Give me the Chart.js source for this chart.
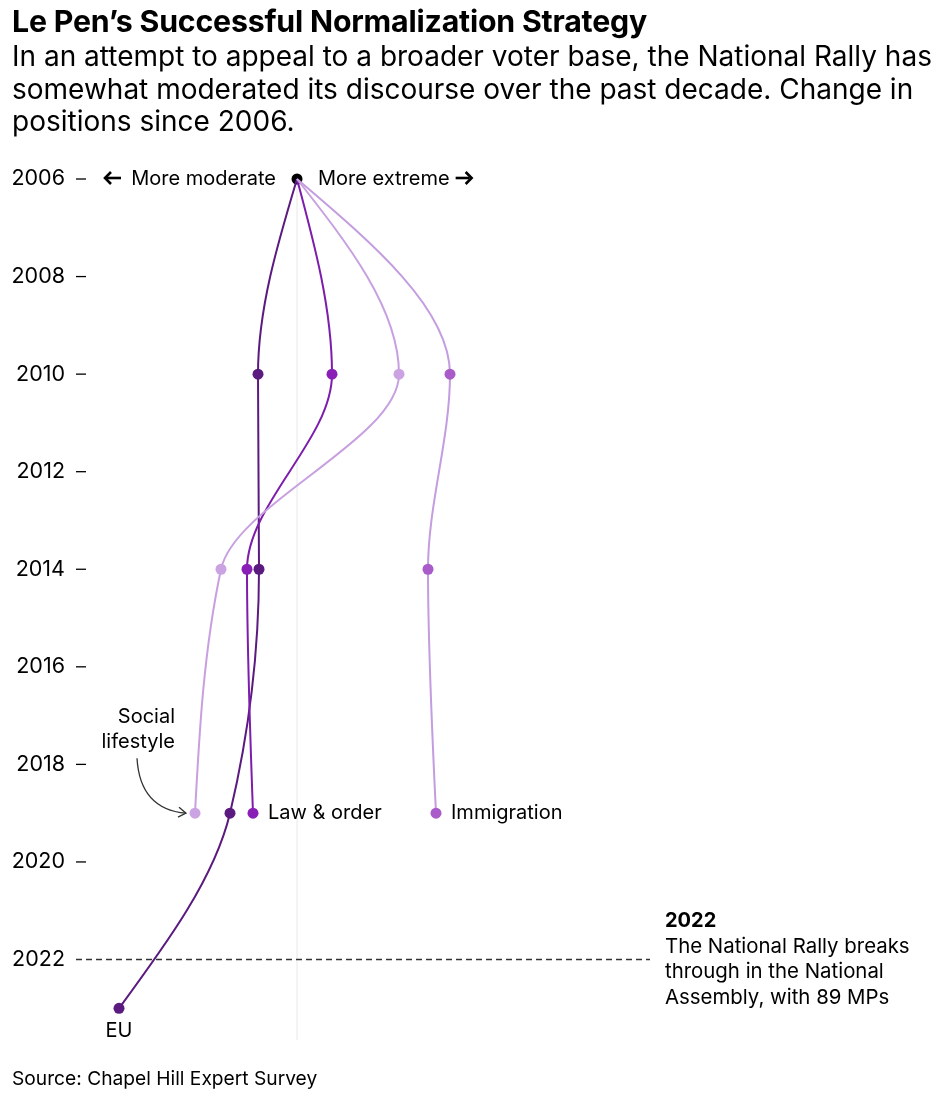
<!DOCTYPE html>
<html>
<head>
<meta charset="utf-8">
<script src="https://cdn.jsdelivr.net/npm/chart.js@4.4.1/dist/chart.umd.min.js"></script>
<style>
  body { margin: 0; background: #fff; font-family: Inter, "Liberation Sans", Arial, sans-serif; color: #000; }
  #wrap { position: relative; width: 943px; height: 1096px; overflow: hidden; }
  #title { position: absolute; left: 12px; top: 3px; margin: 0; font-size: 30.3px; font-weight: bold; letter-spacing: -0.2px; white-space: nowrap; }
  #sub { position: absolute; left: 12px; top: 40px; margin: 0; width: 930px; font-size: 28px; line-height: 32.5px; }
  #source { position: absolute; left: 12px; top: 1066px; font-size: 19.2px; }
  canvas { position: absolute; left: 0; top: 0; }
</style>
</head>
<body>
<div id="wrap">
  <canvas id="chart" width="943" height="1096"></canvas>
  <h1 id="title">Le Pen’s Successful Normalization Strategy</h1>
  <p id="sub">In an attempt to appeal to a broader voter base, the National Rally has somewhat moderated its discourse over the past decade. Change in positions since 2006.</p>
  <div id="source">Source: Chapel Hill Expert Survey</div>
</div>
<script>
// survey years and change in position since 2006 (negative = more moderate)
let surveyYears = [2006, 2010, 2014, 2019]
let euYears = [2006, 2010, 2014, 2019, 2023]
let euValues = [0, -0.39, -0.38, -0.67, -1.78]
let lawValues = [0, 0.35, -0.50, -0.44]
let socialValues = [0, 1.02, -0.76, -1.02]
let immigrationValues = [0, 1.53, 1.31, 1.39]
let yearTicks = [2006, 2008, 2010, 2012, 2014, 2016, 2018, 2020, 2022]

let colors = {
    eu: ['#5b1a7f', '#5b1a7f'],
    law: ['#7d1dac', '#8a1fb8'],
    social: ['#c8a0e0', '#cba3e2'],
    immigration: ['#c39ddf', '#a95cc9']
}

function toPoints(years, values) {
    return years.map((y, i) => ({ x: values[i], y: y }))
}

function series(label, years, values, color) {
    return {
        label: label,
        data: toPoints(years, values),
        borderColor: color[0],
        backgroundColor: color[1],
        pointBackgroundColor: color[1],
        borderWidth: 2,
        pointRadius: years.map((y, i) => i === 0 ? 0 : 5.5),
        pointBorderWidth: 0,
        cubicInterpolationMode: 'monotone',
        clip: false
    }
}

let font = 'Inter, "Liberation Sans", Arial, sans-serif'

// monotone-in-y control points, same maths as d3.curveMonotoneY
function sign(v) { return v < 0 ? -1 : 1 }
function monotoneY(points) {
    let n = points.length
    if (n < 2) return
    let h = [], s = [], t = []
    for (let i = 0; i < n - 1; i++) {
        h[i] = points[i + 1].y - points[i].y
        s[i] = h[i] ? (points[i + 1].x - points[i].x) / h[i] : 0
    }
    for (let i = 1; i < n - 1; i++) {
        let p = (s[i - 1] * h[i] + s[i] * h[i - 1]) / (h[i - 1] + h[i])
        t[i] = (sign(s[i - 1]) + sign(s[i])) * Math.min(Math.abs(s[i - 1]), Math.abs(s[i]), 0.5 * Math.abs(p)) || 0
    }
    if (n > 2) {
        t[0] = (3 * s[0] - t[1]) / 2
        t[n - 1] = (3 * s[n - 2] - t[n - 2]) / 2
    } else {
        t[0] = t[1] = s[0]
    }
    for (let i = 0; i < n - 1; i++) {
        let d = h[i] / 3
        points[i].cp2x = points[i].x + t[i] * d
        points[i].cp2y = points[i].y + d
        points[i + 1].cp1x = points[i + 1].x - t[i + 1] * d
        points[i + 1].cp1y = points[i + 1].y - d
    }
}

// heavy little arrow like the one in the header labels
function arrow(ctx, x1, x2, y) {
    let dir = x2 > x1 ? 1 : -1
    ctx.save()
    ctx.strokeStyle = '#000'
    ctx.lineWidth = 2.6
    ctx.beginPath()
    ctx.moveTo(x1, y)
    ctx.lineTo(x2 - dir * 2, y)
    ctx.stroke()
    ctx.beginPath()
    ctx.moveTo(x2 - dir * 6, y - 6)
    ctx.lineTo(x2, y)
    ctx.lineTo(x2 - dir * 6, y + 6)
    ctx.stroke()
    ctx.restore()
}

let annotations = {
    id: 'annotations',
    beforeDatasetsDraw(chart) {
        let ctx = chart.ctx
        let x = chart.scales.x
        let y = chart.scales.y

        chart.data.datasets.forEach((ds, i) => {
            let meta = chart.getDatasetMeta(i)
            if (!meta.dataset || ds.showLine === false) return
            meta.dataset.updateControlPoints(chart.chartArea, 'y')
            monotoneY(meta.dataset.points)
        })

        ctx.save()
        // center line
        ctx.strokeStyle = '#e8e8e8'
        ctx.lineWidth = 1
        ctx.beginPath()
        ctx.moveTo(x.getPixelForValue(0), y.getPixelForValue(2006))
        ctx.lineTo(x.getPixelForValue(0), chart.chartArea.bottom)
        ctx.stroke()
        // tick dashes
        ctx.strokeStyle = '#000'
        ctx.lineWidth = 1.3
        yearTicks.forEach(v => {
            if (v === 2022) return
            let py = y.getPixelForValue(v)
            ctx.beginPath()
            ctx.moveTo(76, py)
            ctx.lineTo(86, py)
            ctx.stroke()
        })
        // 2022 dashed line
        let y22 = y.getPixelForValue(2022)
        ctx.strokeStyle = '#333'
        ctx.lineWidth = 1.3
        ctx.setLineDash([6, 4])
        ctx.beginPath()
        ctx.moveTo(76, y22)
        ctx.lineTo(650, y22)
        ctx.stroke()
        ctx.restore()
    },
    afterDraw(chart) {
        let ctx = chart.ctx
        let x = chart.scales.x
        let y = chart.scales.y
        ctx.save()
        ctx.fillStyle = '#000'
        ctx.textBaseline = 'middle'
        ctx.font = '20px ' + font

        let x0 = x.getPixelForValue(0)
        let y0 = y.getPixelForValue(2006)
        ctx.textAlign = 'right'
        ctx.fillText('More moderate', x0 - 21, y0)
        arrow(ctx, 121, 105, y0 - 1)
        ctx.textAlign = 'left'
        let w = ctx.measureText('More extreme').width
        ctx.fillText('More extreme', x0 + 21, y0)
        arrow(ctx, x0 + 27 + w, x0 + 43 + w, y0 - 1)

        let y19 = y.getPixelForValue(2019)
        ctx.fillText('Law & order', x.getPixelForValue(lawValues[3]) + 15, y19)
        ctx.fillText('Immigration', x.getPixelForValue(immigrationValues[3]) + 15, y19)

        ctx.textAlign = 'center'
        ctx.fillText('EU', x.getPixelForValue(euValues[4]), y.getPixelForValue(2023) + 23)

        let sx = x.getPixelForValue(socialValues[3])
        ctx.textAlign = 'right'
        ctx.fillText('Social', 175, y19 - 96)
        ctx.fillText('lifestyle', 175, y19 - 71)

        // curved arrow to social lifestyle point
        ctx.strokeStyle = '#333'
        ctx.lineWidth = 1.3
        ctx.beginPath()
        ctx.moveTo(137, y19 - 55)
        ctx.quadraticCurveTo(140, y19 - 4, sx - 9, y19)
        ctx.stroke()
        ctx.beginPath()
        ctx.moveTo(sx - 16, y19 - 6)
        ctx.lineTo(sx - 9, y19)
        ctx.lineTo(sx - 17, y19 + 4)
        ctx.stroke()

        // 2022 note
        ctx.textAlign = 'left'
        ctx.font = 'bold 20px ' + font
        ctx.fillText('2022', 665, y.getPixelForValue(2022) - 39)
        ctx.font = '20.4px ' + font
        let note = ['The National Rally breaks', 'through in the National', 'Assembly, with 89 MPs']
        note.forEach((line, i) => {
            ctx.fillText(line, 665, y.getPixelForValue(2022) - 13 + i * 25.5)
        })
        ctx.restore()
    }
}

let chart = new Chart(document.querySelector('#chart'), {
    type: 'line',
    data: {
        datasets: [
            series('Social lifestyle', surveyYears, socialValues, colors.social),
            series('Immigration', surveyYears, immigrationValues, colors.immigration),
            series('Law & order', surveyYears, lawValues, colors.law),
            series('EU', euYears, euValues, colors.eu),
            {
                label: 'origin',
                data: [{ x: 0, y: 2006 }],
                showLine: false,
                pointRadius: 5.5,
                pointBorderWidth: 0,
                pointBackgroundColor: '#000',
                clip: false
            }
        ]
    },
    options: {
        responsive: false,
        animation: false,
        indexAxis: 'y',
        layout: {
            padding: { top: 179, bottom: 56, left: 0, right: 46 }
        },
        scales: {
            x: {
                type: 'linear',
                min: -2,
                max: 6,
                display: false
            },
            y: {
                type: 'linear',
                reverse: true,
                min: 2006,
                max: 2023.65,
                border: { display: false },
                grid: { display: false, drawTicks: false },
                afterFit: (scale) => { scale.width = 97 },
                afterBuildTicks: (scale) => { scale.ticks = yearTicks.map(v => ({ value: v })) },
                ticks: {
                    padding: 32,
                    color: '#000',
                    font: { family: font, size: 21.5 },
                    callback: (v) => String(v)
                }
            }
        },
        plugins: {
            legend: { display: false },
            tooltip: { enabled: false }
        },
        events: []
    },
    plugins: [annotations]
})
</script>
</body>
</html>
